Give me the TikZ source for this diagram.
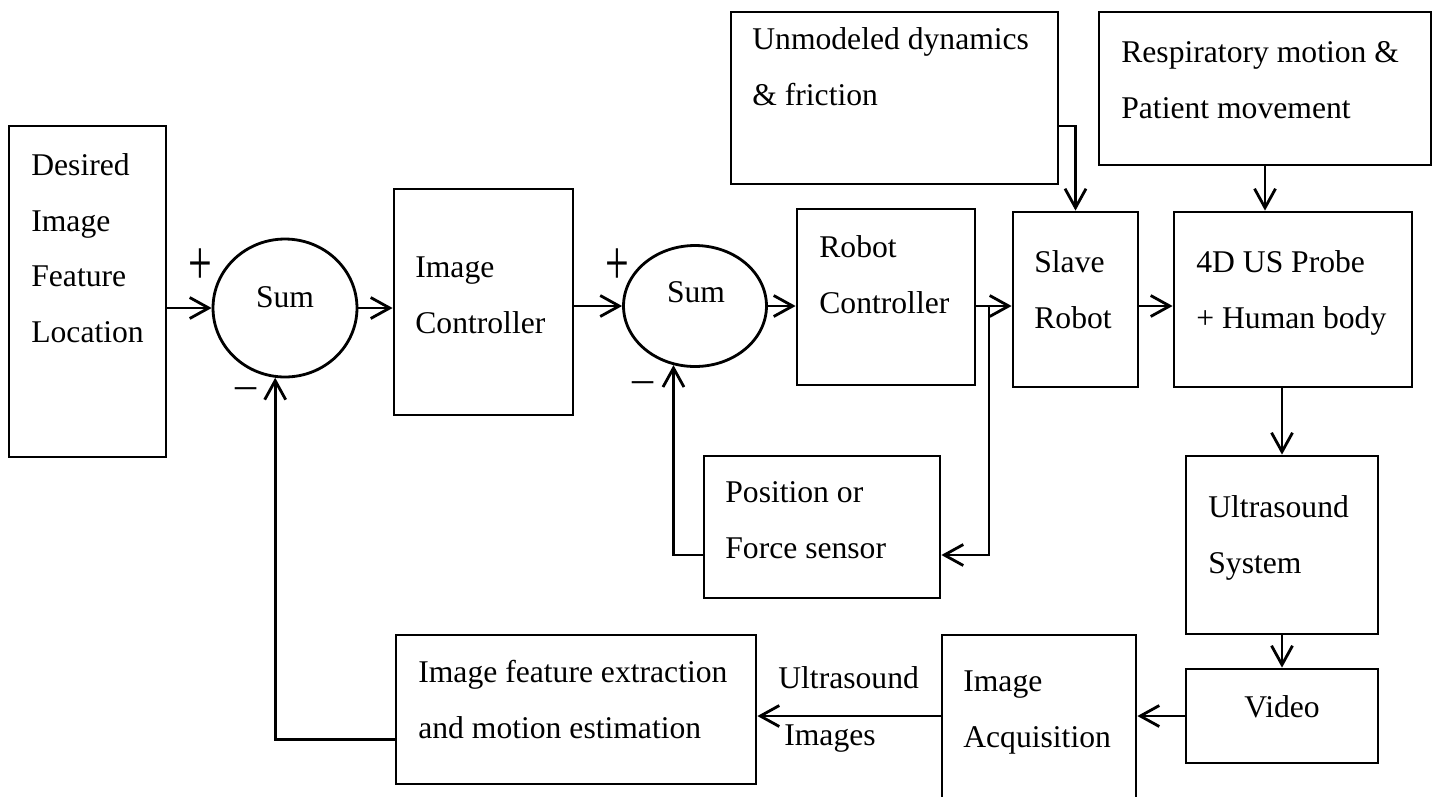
\documentclass[tikz,border=0pt]{standalone}
\usepackage{fontspec}
\setmainfont{Liberation Serif}
\usetikzlibrary{arrows.meta, fit, shapes.geometric, calc}

\tikzset{
	blk/.style = {draw, line width = 1.6pt, inner sep = 0},
	sumnode/.style = {ellipse, draw, line width = 1.6pt, inner sep = 0},
	txt/.style = {align = left, inner sep = 0, font = \fontsize{18}{31.5}\selectfont},
	sgn/.style = {inner sep = 0, font = \fontsize{24}{26}\selectfont},
	arr/.style = {line width = 1.6pt, -{Straight Barb[length = 3.8mm, width = 4.2mm, line width = 1.6pt]}}
}

\begin{document}
\begin{tikzpicture}[x = 0.02cm, y = -0.02cm]
	\useasboundingbox (0,0) rectangle (1437,796);
	\clip (0,0) rectangle (1437,796);
	% blocks
	\node [blk, fit = {(9,126) (166,457)}] (des) {};
	\node [blk, fit = {(394,189) (573,415)}] (ic) {};
	\node [blk, fit = {(797,209) (975,385)}] (rc) {};
	\node [blk, fit = {(731,12) (1058,184)}] (um) {};
	\node [blk, fit = {(1099,12) (1431,165)}] (rm) {};
	\node [blk, fit = {(1013,212) (1138,387)}] (sr) {};
	\node [blk, fit = {(1174,212) (1412,387)}] (pb) {};
	\node [blk, fit = {(704,456) (940,598)}] (ps) {};
	\node [blk, fit = {(1186,456) (1378,634)}] (us) {};
	\node [blk, fit = {(1186,669) (1378,763)}] (vid) {};
	\node [blk, fit = {(942,635) (1136,830)}] (ia) {};
	\node [blk, fit = {(396,635) (756,784)}] (ife) {};
	\node [sumnode, minimum width = 2.88cm, minimum height = 2.76cm] (s1) at (285,308) {};
	\node [sumnode, minimum width = 2.86cm, minimum height = 2.42cm] (s2) at (695,306) {};

	% texts (anchored at the baseline of the last line)
	\node [txt, anchor = base west] (desT) at (31,342) {Desired\\Image\\Feature\\Location};
	\node [txt, anchor = base west] (icT) at (415,333) {Image\\Controller};
	\node [txt, anchor = base west] (rcT) at (819,313) {Robot\\Controller};
	\node [txt, anchor = base west] (umT) at (752,105) {Unmodeled dynamics\\\& friction};
	\node [txt, anchor = base west] (rmT) at (1121,118) {Respiratory motion \&\\Patient movement};
	\node [txt, anchor = base west] (srT) at (1034,328) {Slave\\Robot};
	\node [txt, anchor = base west] (pbT) at (1196,328) {4D US Probe\\+ Human body};
	\node [txt, anchor = base west] (psT) at (725,558) {Position or\\Force sensor};
	\node [txt, anchor = base west] (usT) at (1208,573) {Ultrasound\\System};
	\node [txt, anchor = base] (vidT) at (1282,717) {Video};
	\node [txt, anchor = base west] (iaT) at (963,747) {Image\\Acquisition};
	\node [txt, anchor = base west] (ifeT) at (418,738) {Image feature extraction\\and motion estimation};
	\node [txt, anchor = base west] (usImgA) at (778,688) {Ultrasound};
	\node [txt, anchor = base west] (usImgB) at (784,745) {Images};
	\node [txt, anchor = base] (s1T) at (285,307) {Sum};
	\node [txt, anchor = base] (s2T) at (696,302) {Sum};

	% signs
	\node [sgn] (p1) at (200,267) {\scalebox{1}[1.5]{+}};
	\node [sgn] (p2) at (617,267) {\scalebox{1}[1.5]{+}};
	\node [sgn] (m1) at (246,393) {–};
	\node [sgn] (m2) at (643,387) {–};

	% forward path
	\coordinate (br) at (989,306);
	\draw [arr] (des.east |- s1.west) -- (s1.west);
	\draw [arr] (s1.east) -- (s1.east -| ic.west);
	\draw [arr] (ic.east |- s2.west) -- (s2.west);
	\draw [arr] (s2.east) -- (s2.east -| rc.west);
	\draw [arr] (rc.east |- s2) -- (sr.west |- s2);
	\draw [arr] (sr.east |- s2) -- (pb.west |- s2);
	\draw [arr] ([yshift = -0.56cm]um.east) -| (sr.north);
	\draw [arr] (rm.south) -- (rm.south |- pb.north);
	\draw [arr] (pb.south -| us.north) -- (us.north);
	\draw [arr] (us.south) -- (vid.north);
	\draw [arr] (vid.west) -- (vid.west -| ia.east);
	\draw [arr] (vid.west -| ia.west) -- (vid.west -| ife.east);

	% feedback
	\draw [arr] (br) |- ([yshift = -0.56cm]ps.east);
	\draw [arr] ([yshift = -0.56cm]ps.west) -| (s2.250);
	\draw [arr] ([yshift = -0.6cm]ife.west) -| (s1.262);
\end{tikzpicture}
\end{document}
